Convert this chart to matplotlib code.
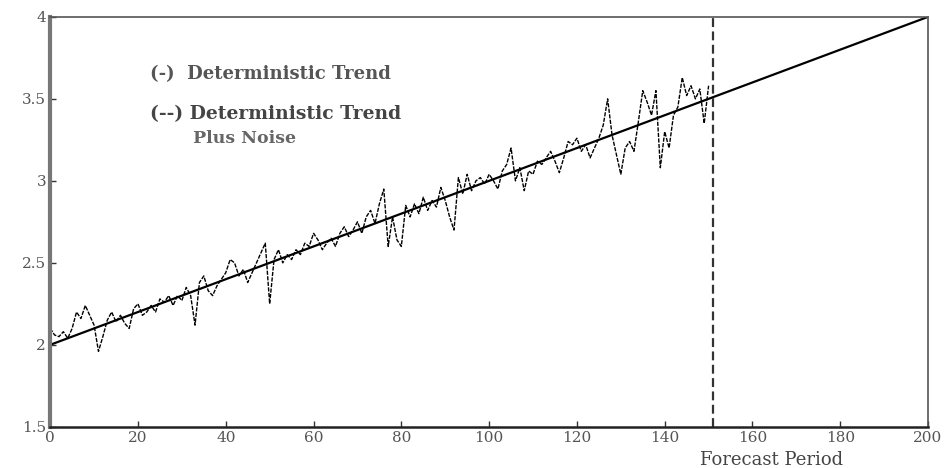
import numpy as np
import matplotlib
matplotlib.use('Agg')
import matplotlib.pyplot as plt

# deterministic trend end points
trend_x = [0, 200]
trend_y = [2.0, 4.0]

# trend plus noise, periods 0..150
noisy_y = [2.10, 2.06, 2.05, 2.08, 2.04, 2.10, 2.20, 2.16, 2.24, 2.18,
           2.12, 1.96, 2.05, 2.15, 2.20, 2.14, 2.18, 2.13, 2.10, 2.22,
           2.25, 2.18, 2.20, 2.24, 2.20, 2.28, 2.26, 2.30, 2.24, 2.30,
           2.27, 2.35, 2.30, 2.12, 2.38, 2.42, 2.33, 2.30, 2.36, 2.40,
           2.44, 2.52, 2.50, 2.42, 2.46, 2.38, 2.44, 2.50, 2.56, 2.62,
           2.25, 2.52, 2.58, 2.50, 2.55, 2.52, 2.58, 2.55, 2.62, 2.60,
           2.68, 2.64, 2.58, 2.62, 2.65, 2.60, 2.68, 2.72, 2.66, 2.70,
           2.75, 2.68, 2.78, 2.82, 2.74, 2.86, 2.95, 2.60, 2.78, 2.64,
           2.60, 2.85, 2.78, 2.86, 2.80, 2.90, 2.82, 2.88, 2.84, 2.96,
           2.88, 2.78, 2.70, 3.02, 2.92, 3.04, 2.94, 3.00, 3.02, 2.98,
           3.04, 3.00, 2.95, 3.06, 3.10, 3.20, 3.00, 3.08, 2.94, 3.06,
           3.04, 3.12, 3.10, 3.14, 3.18, 3.12, 3.05, 3.14, 3.24, 3.22,
           3.26, 3.18, 3.22, 3.14, 3.20, 3.26, 3.34, 3.50, 3.28, 3.16,
           3.04, 3.20, 3.24, 3.18, 3.36, 3.55, 3.48, 3.40, 3.55, 3.08,
           3.30, 3.20, 3.40, 3.45, 3.63, 3.52, 3.58, 3.50, 3.56, 3.35,
           3.58]
noisy_x = np.arange(len(noisy_y))

forecast_start = 151

xticks = [0, 20, 40, 60, 80, 100, 120, 140, 160, 180, 200]
yticks = [1.5, 2, 2.5, 3, 3.5, 4]
ytick_labels = ['1.5', '2', '2.5', '3', '3.5', '4']

plt.rcParams['font.family'] = ['DejaVu Serif']

fig = plt.figure(figsize=(9.47, 4.68), dpi=100)
ax = fig.add_axes([0.053, 0.088, 0.927, 0.876])

ax.plot(noisy_x, noisy_y, color='black', lw=1.0, linestyle=(0, (3, 1)))
ax.plot(trend_x, trend_y, color='black', lw=1.6)
ax.axvline(forecast_start, color='#333333', lw=1.6, linestyle=(0, (4, 2)))

ax.set_xlim(0, 200)
ax.set_ylim(1.5, 4)
ax.set_xticks(xticks)
ax.set_yticks(yticks)
ax.set_yticklabels(ytick_labels)
ax.tick_params(axis='both', direction='in', length=4, width=1, labelsize=11,
               labelcolor='#555555', color='#333333', pad=3)

ax.spines['left'].set_linewidth(3)
ax.spines['left'].set_color('#777777')
ax.spines['bottom'].set_linewidth(1.8)
ax.spines['bottom'].set_color('#222222')
for s in ['top', 'right']:
    ax.spines[s].set_linewidth(1.2)
    ax.spines[s].set_color('#555555')

ax.text(22.8, 3.65, '(-)  Deterministic Trend', fontsize=13,
        fontweight='bold', color='#555555', va='center')
ax.text(22.8, 3.41, '(--) Deterministic Trend', fontsize=13.5,
        fontweight='bold', color='#444444', va='center')
ax.text(32.6, 3.26, 'Plus Noise', fontsize=12.5,
        fontweight='bold', color='#666666', va='center')

fig.text(0.815, 0.018, 'Forecast Period', fontsize=13, color='#444444',
         ha='center', va='center')

fig.savefig('out.png', dpi=100)
